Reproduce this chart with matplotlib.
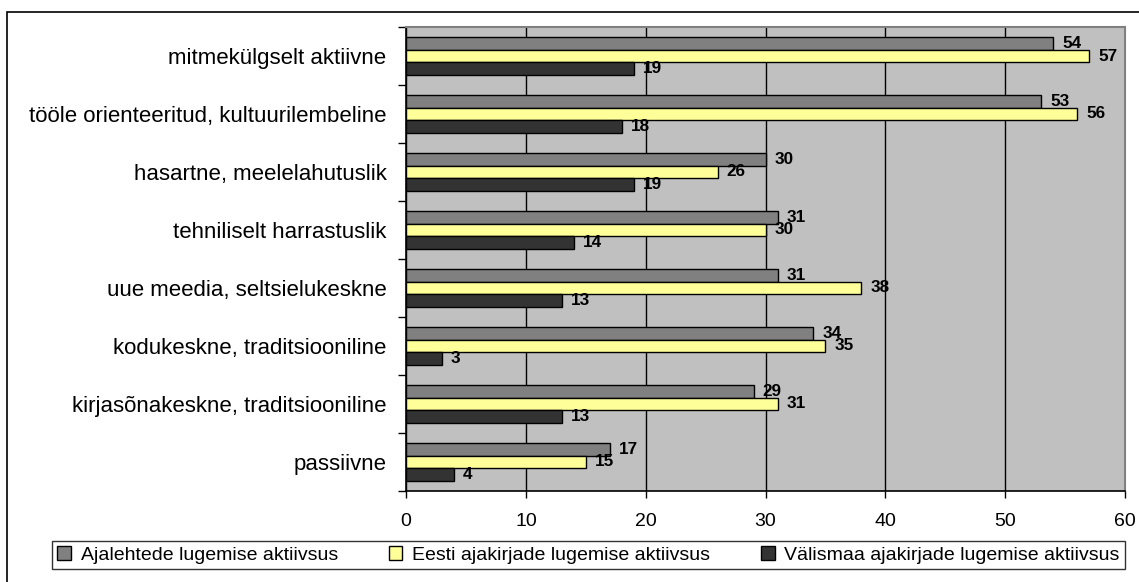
import numpy as np
import matplotlib.pyplot as plt
from matplotlib.patches import Rectangle

plt.rcParams['font.family'] = ['Liberation Sans', 'DejaVu Sans']

categories = [
    'mitmekülgselt aktiivne',
    'tööle orienteeritud, kultuurilembeline',
    'hasartne, meelelahutuslik',
    'tehniliselt harrastuslik',
    'uue meedia, seltsielukeskne',
    'kodukeskne, traditsiooniline',
    'kirjasõnakeskne, traditsiooniline',
    'passiivne',
]
ajalehed = [54, 53, 30, 31, 31, 34, 29, 17]
eesti_ajakirjad = [57, 56, 26, 30, 38, 35, 31, 15]
valismaa_ajakirjad = [19, 18, 19, 14, 13, 3, 13, 4]

series = [
    ('Ajalehtede lugemise aktiivsus', ajalehed, '#808080'),
    ('Eesti ajakirjade lugemise aktiivsus', eesti_ajakirjad, '#FFFF99'),
    ('Välismaa ajakirjade lugemise aktiivsus', valismaa_ajakirjad, '#333333'),
]

fig = plt.figure(figsize=(11.39, 5.82), dpi=100)
ax = fig.add_axes([0.3565, 0.1564, 0.9877 - 0.3565, 0.9536 - 0.1564])
ax.set_facecolor('#C0C0C0')

# outer frame of the chart area
fig.patches.append(Rectangle((7 / 1139, -0.1), 1.2, 1 - 12 / 582 + 0.1,
                             transform=fig.transFigure, fill=False,
                             edgecolor='black', linewidth=1.2))

n = len(categories)
y = np.arange(n)[::-1] + 0.5
h = 0.218
for i, (name, vals, color) in enumerate(series):
    pos = y + h - i * h
    ax.barh(pos, vals, height=h, color=color, edgecolor='black',
            linewidth=1.0, label=name, zorder=3)
    for yy, v in zip(pos, vals):
        ax.text(v + 0.75, yy, str(v), va='center', ha='left',
                fontsize=12.3, fontweight='bold', zorder=4)

ax.set_xlim(0, 60)
ax.set_ylim(0, n)
ax.set_xticks(range(0, 61, 10))
ax.tick_params(axis='x', direction='out', length=5, labelsize=14, pad=11,
               width=1)
ax.set_yticks(np.arange(0, n + 1), minor=True)
ax.set_yticks(y)
ax.set_yticklabels(categories, fontsize=16)
ax.tick_params(axis='y', which='major', length=0, pad=14)
ax.tick_params(axis='y', which='minor', direction='out', length=6, width=1)
ax.grid(axis='x', color='black', linewidth=1, zorder=1)

for side in ('top', 'right'):
    ax.spines[side].set_color('#808080')
    ax.spines[side].set_linewidth(1.5)
for side in ('left', 'bottom'):
    ax.spines[side].set_color('black')
    ax.spines[side].set_linewidth(1.2)

leg = fig.legend(loc='lower left',
                 bbox_to_anchor=(52 / 1139, 1 - 569 / 582,
                                 (1125 - 52) / 1139, 32 / 582),
                 mode='expand', ncol=3, fontsize=14, frameon=True,
                 fancybox=False, edgecolor='black', handlelength=0.7,
                 handleheight=0.7, handletextpad=0.5, borderpad=0.27,
                 borderaxespad=0)
leg.get_frame().set_linewidth(1.0)

fig.savefig('out.png', dpi=100)
